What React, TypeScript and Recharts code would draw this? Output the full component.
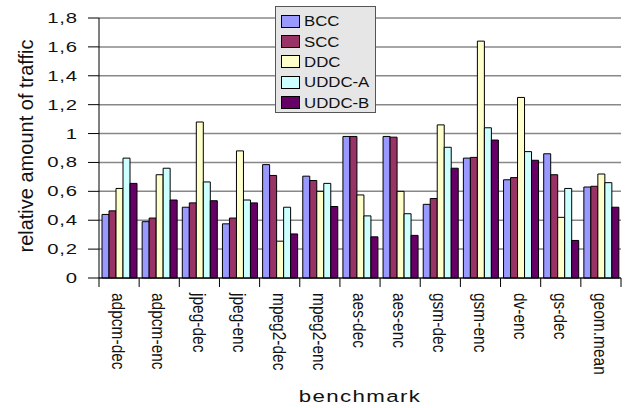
import React from "react";
import { BarChart, Bar, XAxis, YAxis, CartesianGrid, Legend } from "recharts";

document.body.style.margin = "0";

const categories = [
  "adpcm-dec",
  "adpcm-enc",
  "jpeg-dec",
  "jpeg-enc",
  "mpeg2-dec",
  "mpeg2-enc",
  "aes-dec",
  "aes-enc",
  "gsm-dec",
  "gsm-enc",
  "dv-enc",
  "gs-dec",
  "geom.mean",
];

const bcc = [0.44, 0.39, 0.49, 0.375, 0.785, 0.705, 0.98, 0.98, 0.51, 0.83, 0.68, 0.86, 0.63];
const scc = [0.465, 0.415, 0.52, 0.415, 0.71, 0.675, 0.98, 0.975, 0.55, 0.835, 0.695, 0.715, 0.635];
const ddc = [0.62, 0.715, 1.08, 0.88, 0.255, 0.6, 0.575, 0.6, 1.06, 1.64, 1.25, 0.42, 0.72];
const uddcA = [0.83, 0.76, 0.665, 0.54, 0.49, 0.655, 0.43, 0.445, 0.905, 1.04, 0.875, 0.62, 0.66];
const uddcB = [0.655, 0.54, 0.535, 0.52, 0.305, 0.495, 0.285, 0.295, 0.76, 0.955, 0.815, 0.26, 0.49];

const yTicks = [0, 0.2, 0.4, 0.6, 0.8, 1, 1.2, 1.4, 1.6, 1.8];

const series = [
  { key: "BCC", values: bcc, color: "#9999FF" },
  { key: "SCC", values: scc, color: "#993366" },
  { key: "DDC", values: ddc, color: "#FFFFCC" },
  { key: "UDDC-A", values: uddcA, color: "#CCFFFF" },
  { key: "UDDC-B", values: uddcB, color: "#660066" },
];

const data = categories.map((name, i) => {
  const row: any = { name };
  series.forEach((s) => (row[s.key] = s.values[i]));
  return row;
});

const FONT = "'Liberation Sans', Arial, Helvetica, sans-serif";

const fmt = (v: number) => String(v).replace(".", ",");

const YTick = ({ x, y, payload }: any) => (
  <g transform={`translate(${x},${y})`}>
    <text transform="scale(1.45,1)" textAnchor="end" dy="0.36em" fontSize={14} letterSpacing={0.6} fontFamily={FONT} fill="#111">
      {fmt(payload.value)}
    </text>
  </g>
);

const XTick = ({ x, y, payload, index, visibleTicksCount }: any) => {
  const half = payload.offset ?? 20;
  const last = index === visibleTicksCount - 1;
  return (
    <g>
      <line x1={x - half} x2={x - half} y1={y} y2={y + 9} stroke="#000" />
      {last && <line x1={x + half} x2={x + half} y1={y} y2={y + 9} stroke="#000" />}
      <text
        transform={`translate(${x - 1},${y + 15}) rotate(90) scale(1,1.15)`}
        dominantBaseline="central"
        fontSize={15.5}
        fontFamily={FONT}
        fill="#111"
      >
        {payload.value}
      </text>
    </g>
  );
};

const LegendBox = () => (
  <div
    style={{
      width: 99,
      height: 101,
      paddingTop: 4,
      background: "#E6E6E6",
      border: "1px solid #555",
      fontFamily: FONT,
    }}
  >
    {series.map((s) => (
      <div key={s.key} style={{ height: 20.4, display: "flex", alignItems: "center" }}>
        <span
          style={{
            display: "inline-block",
            marginLeft: 5,
            width: 17,
            height: 11,
            background: s.color,
            border: "1px solid #000",
          }}
        />
        <span
          style={{
            display: "inline-block",
            marginLeft: 4,
            fontSize: 14,
            color: "#111",
            transform: "scaleX(1.2)",
            transformOrigin: "left center",
            whiteSpace: "nowrap",
          }}
        >
          {s.key}
        </span>
      </div>
    ))}
  </div>
);

const YTitle = ({ viewBox }: any) => {
  const cx = viewBox.x + 33;
  const cy = viewBox.y + viewBox.height / 2 - 2;
  return (
    <text transform={`translate(${cx},${cy}) rotate(-90)`} textAnchor="middle" fontSize={20} fontFamily={FONT} fill="#111">
      relative amount of traffic
    </text>
  );
};

const XTitle = ({ viewBox }: any) => {
  const cx = viewBox.x + viewBox.width / 2;
  const by = viewBox.y + viewBox.height - 6;
  return (
    <text
      transform={`translate(${cx},${by}) scale(1.35,1)`}
      textAnchor="middle"
      fontSize={16.5}
      letterSpacing={1}
      fontFamily={FONT}
      fill="#111"
    >
      benchmark
    </text>
  );
};

export default function App() {
  return (
    <BarChart
      width={630}
      height={408}
      data={data}
      margin={{ top: 18, right: 9, bottom: 0, left: 0 }}
      barGap={0}
      barSize={7}
    >
      <CartesianGrid vertical={false} stroke="#888" strokeWidth={1.5} />
      <XAxis
        dataKey="name"
        interval={0}
        height={130}
        tickLine={false}
        tickSize={0}
        tickMargin={0}
        axisLine={{ stroke: "#000" }}
        tick={<XTick />}
        label={<XTitle />}
      />
      <YAxis
        width={99}
        domain={[0, 1.8]}
        ticks={yTicks}
        interval={0}
        tickSize={11}
        tickMargin={10}
        axisLine={{ stroke: "#000" }}
        tickLine={{ stroke: "#000" }}
        tick={<YTick />}
        label={<YTitle />}
      />
      <Legend
        layout="vertical"
        align="center"
        verticalAlign="middle"
        content={<LegendBox />}
        wrapperStyle={{ left: 275, top: 6, width: "auto", height: "auto" }}
      />
      {series.map((s) => (
        <Bar key={s.key} dataKey={s.key} fill={s.color} stroke="#000" strokeWidth={1} isAnimationActive={false} />
      ))}
    </BarChart>
  );
}
